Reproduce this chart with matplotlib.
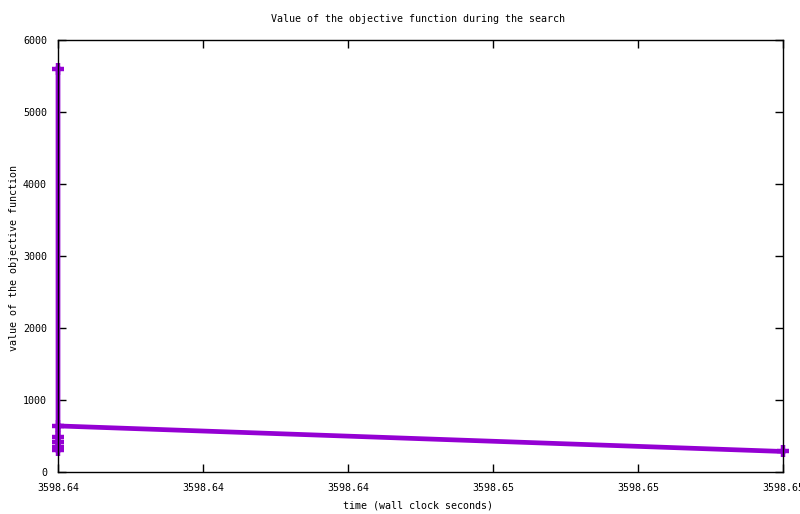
import numpy as np
import matplotlib
matplotlib.use("Agg")
import matplotlib.pyplot as plt
from matplotlib.ticker import FormatStrFormatter

# ---- data (gnuplot-style objective trace) ----
times = [3598.640, 3598.640, 3598.640, 3598.640, 3598.640, 3598.640, 3598.650]
values = [5600, 480, 410, 350, 300, 640, 285]
xticks = [3598.640, 3598.642, 3598.644, 3598.646, 3598.648, 3598.650]
yticks = [0, 1000, 2000, 3000, 4000, 5000, 6000]

PURPLE = "#9400d3"
W, H = 800, 514
plt.rcParams["font.family"] = ["DejaVu Sans Mono"]
plt.rcParams["font.size"] = 7.2
plt.rcParams["path.simplify"] = False

fig = plt.figure(figsize=(W / 100, H / 100), dpi=100)
ax = fig.add_axes([58 / W, 1 - 472 / H, (783 - 58) / W, (472 - 40) / H])

ax.plot(times, values, color=PURPLE, lw=3.4, marker="+", ms=9, mew=3.2,
        clip_on=False, zorder=3, snap=False)

ax.set_xlim(xticks[0], xticks[-1])
ax.set_ylim(0, 6000)
ax.set_xticks(xticks)
ax.set_yticks(yticks)
ax.xaxis.set_major_formatter(FormatStrFormatter("%.2f"))
ax.tick_params(direction="in", length=6, width=1, top=True, right=True,
               labelsize=7.2, color="black", pad=8)
for s in ax.spines.values():
    s.set_linewidth(1.0)
    s.set_zorder(4)

fig.text(418 / W, 1 - 19 / H, "Value of the objective function during the search",
         ha="center", va="center")
fig.text(418 / W, 1 - 505 / H, "time (wall clock seconds)", ha="center", va="center")
fig.text(14 / W, 1 - 258 / H, "value of the objective function", rotation=90,
         ha="center", va="center")

fig.savefig("out.png", dpi=100, facecolor="white")
